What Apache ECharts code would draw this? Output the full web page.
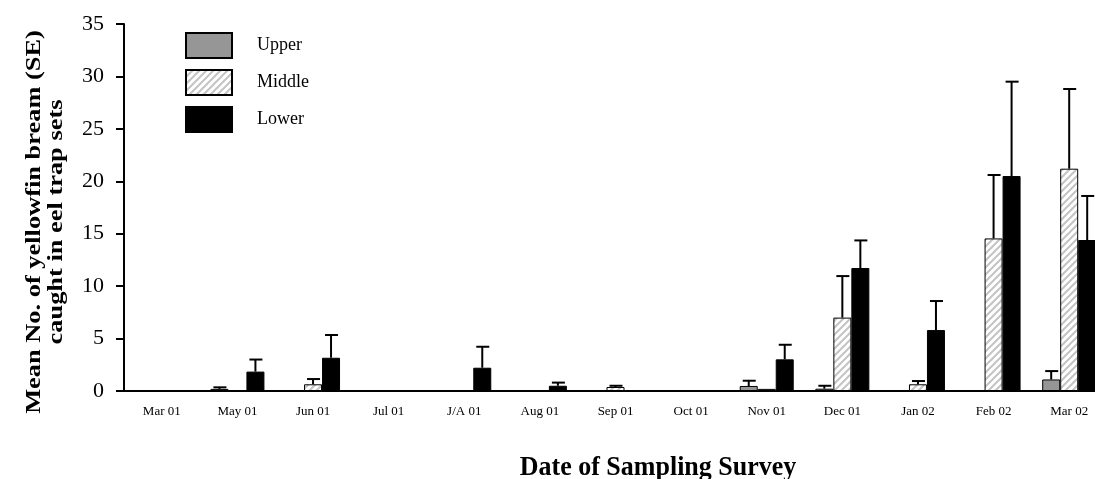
<!DOCTYPE html>
<html>
<head>
<meta charset="utf-8">
<script src="https://cdn.jsdelivr.net/npm/echarts@6/dist/echarts.min.js"></script>
<style>
  html, body { margin: 0; padding: 0; background: #fff; overflow: hidden; }
  /* plot runs a little past the right edge, like the source figure */
  #main { width: 1107px; height: 479px; }
</style>
</head>
<body>
<div id="main"></div>
<script>
// survey dates
var categories = ['Mar 01', 'May 01', 'Jun 01', 'Jul 01', 'J/A 01', 'Aug 01', 'Sep 01', 'Oct 01', 'Nov 01', 'Dec 01', 'Jan 02', 'Feb 02', 'Mar 02'];
// means and SE per site
var upperMean = [0, 0.2, 0, 0, 0, 0, 0, 0, 0.48, 0.22, 0, 0, 1.1];
var upperSE = [0, 0.15, 0, 0, 0, 0, 0, 0, 0.5, 0.28, 0, 0, 0.8];
var middleMean = [0, 0, 0.64, 0, 0, 0, 0.38, 0, 0.2, 7.0, 0.64, 14.55, 21.2];
var middleSE = [0, 0, 0.5, 0, 0, 0, 0.12, 0, 0, 3.96, 0.31, 6.05, 7.6];
var lowerMean = [0, 1.85, 3.17, 0, 2.22, 0.5, 0, 0, 3.02, 11.73, 5.81, 20.5, 14.4];
var lowerSE = [0, 1.15, 2.17, 0, 2.0, 0.3, 0, 0, 1.39, 2.63, 2.77, 9.0, 4.2];
var yTicks = [0, 5, 10, 15, 20, 25, 30, 35];

var FONT = '"Liberation Serif", "Times New Roman", serif';
var BAR_W = 18;

// hatch fill for the middle site
function makeHatch() {
    var c = document.createElement('canvas');
    c.width = 7; c.height = 7;
    var ctx = c.getContext('2d');
    ctx.fillStyle = '#fff';
    ctx.fillRect(0, 0, 7, 7);
    ctx.strokeStyle = '#c4c4c4';
    ctx.lineWidth = 2;
    ctx.beginPath();
    ctx.moveTo(-1, 8); ctx.lineTo(8, -1);
    ctx.moveTo(-4.5, 4.5); ctx.lineTo(4.5, -4.5);
    ctx.moveTo(2.5, 11.5); ctx.lineTo(11.5, 2.5);
    ctx.stroke();
    return c;
}

function errData(mean, se, off) {
    var out = [];
    for (var i = 0; i < mean.length; i++) {
        if (se[i] > 0) out.push([i, mean[i], se[i], off]);
    }
    return out;
}

function renderErr(params, api) {
    var i = api.value(0), v = api.value(1), se = api.value(2), off = api.value(3);
    var p0 = api.coord([i, v]);
    var p1 = api.coord([i, v + se]);
    var x = p0[0] + off;
    var st = { stroke: '#000', lineWidth: 2 };
    return {
        type: 'group',
        children: [
            { type: 'line', shape: { x1: x, y1: p0[1], x2: x, y2: p1[1] }, style: st },
            { type: 'line', shape: { x1: x - 6, y1: p1[1], x2: x + 7, y2: p1[1] }, style: st }
        ]
    };
}

var chart = echarts.init(document.getElementById('main'));
var barStyle = { borderColor: '#000', borderWidth: 1 };

var option = {
    animation: false,
    backgroundColor: '#fff',
    grid: { left: 124, top: 24, width: 983, height: 367 },
    legend: {
        orient: 'vertical',
        left: 185,
        top: 32,
        padding: 0,
        itemWidth: 46,
        itemHeight: 25,
        itemGap: 10,
        icon: 'rect',
        data: ['Upper', 'Middle', 'Lower'],
        textStyle: { fontFamily: FONT, fontSize: 18, color: '#000', padding: [0, 0, 0, 20] }
    },
    xAxis: {
        type: 'category',
        data: categories,
        axisLine: { lineStyle: { color: '#000', width: 2 } },
        axisTick: { length: 6, lineStyle: { color: '#000', width: 2 } },
        axisLabel: { fontFamily: FONT, fontSize: 13, color: '#000', margin: 14 }
    },
    yAxis: {
        type: 'value',
        min: yTicks[0],
        max: yTicks[yTicks.length - 1],
        interval: 5,
        splitLine: { show: false },
        axisLine: { show: true, lineStyle: { color: '#000', width: 2 } },
        axisTick: { show: true, length: 8, lineStyle: { color: '#000', width: 2 } },
        axisLabel: { fontFamily: FONT, fontSize: 22, color: '#000', margin: 20 }
    },
    graphic: [
        {
            type: 'text',
            x: 45, y: 222,
            rotation: Math.PI / 2,
            scaleX: 1.2,
            style: {
                text: 'Mean No. of yellowfin bream (SE)\ncaught in eel trap sets',
                font: 'bold 22px ' + FONT,
                fill: '#000',
                align: 'center',
                verticalAlign: 'middle',
                lineHeight: 22
            }
        },
        {
            type: 'text',
            x: 658, y: 468,
            scaleY: 1.05,
            style: {
                text: 'Date of Sampling Survey',
                font: 'bold 26px ' + FONT,
                fill: '#000',
                align: 'center',
                verticalAlign: 'middle'
            }
        }
    ],
    series: [
        { name: 'Upper', type: 'bar', data: upperMean, barWidth: BAR_W, barGap: '0%',
          itemStyle: Object.assign({ color: '#969696' }, barStyle) },
        { name: 'Middle', type: 'bar', data: middleMean, barWidth: BAR_W, barGap: '0%',
          itemStyle: Object.assign({ color: { image: makeHatch(), repeat: 'repeat' } }, barStyle) },
        { name: 'Lower', type: 'bar', data: lowerMean, barWidth: BAR_W, barGap: '0%',
          itemStyle: Object.assign({ color: '#000' }, barStyle) },
        { type: 'custom', renderItem: renderErr, data: errData(upperMean, upperSE, -BAR_W), z: 3, silent: true },
        { type: 'custom', renderItem: renderErr, data: errData(middleMean, middleSE, 0), z: 3, silent: true },
        { type: 'custom', renderItem: renderErr, data: errData(lowerMean, lowerSE, BAR_W), z: 3, silent: true }
    ]
};
chart.setOption(option);
</script>
</body>
</html>
